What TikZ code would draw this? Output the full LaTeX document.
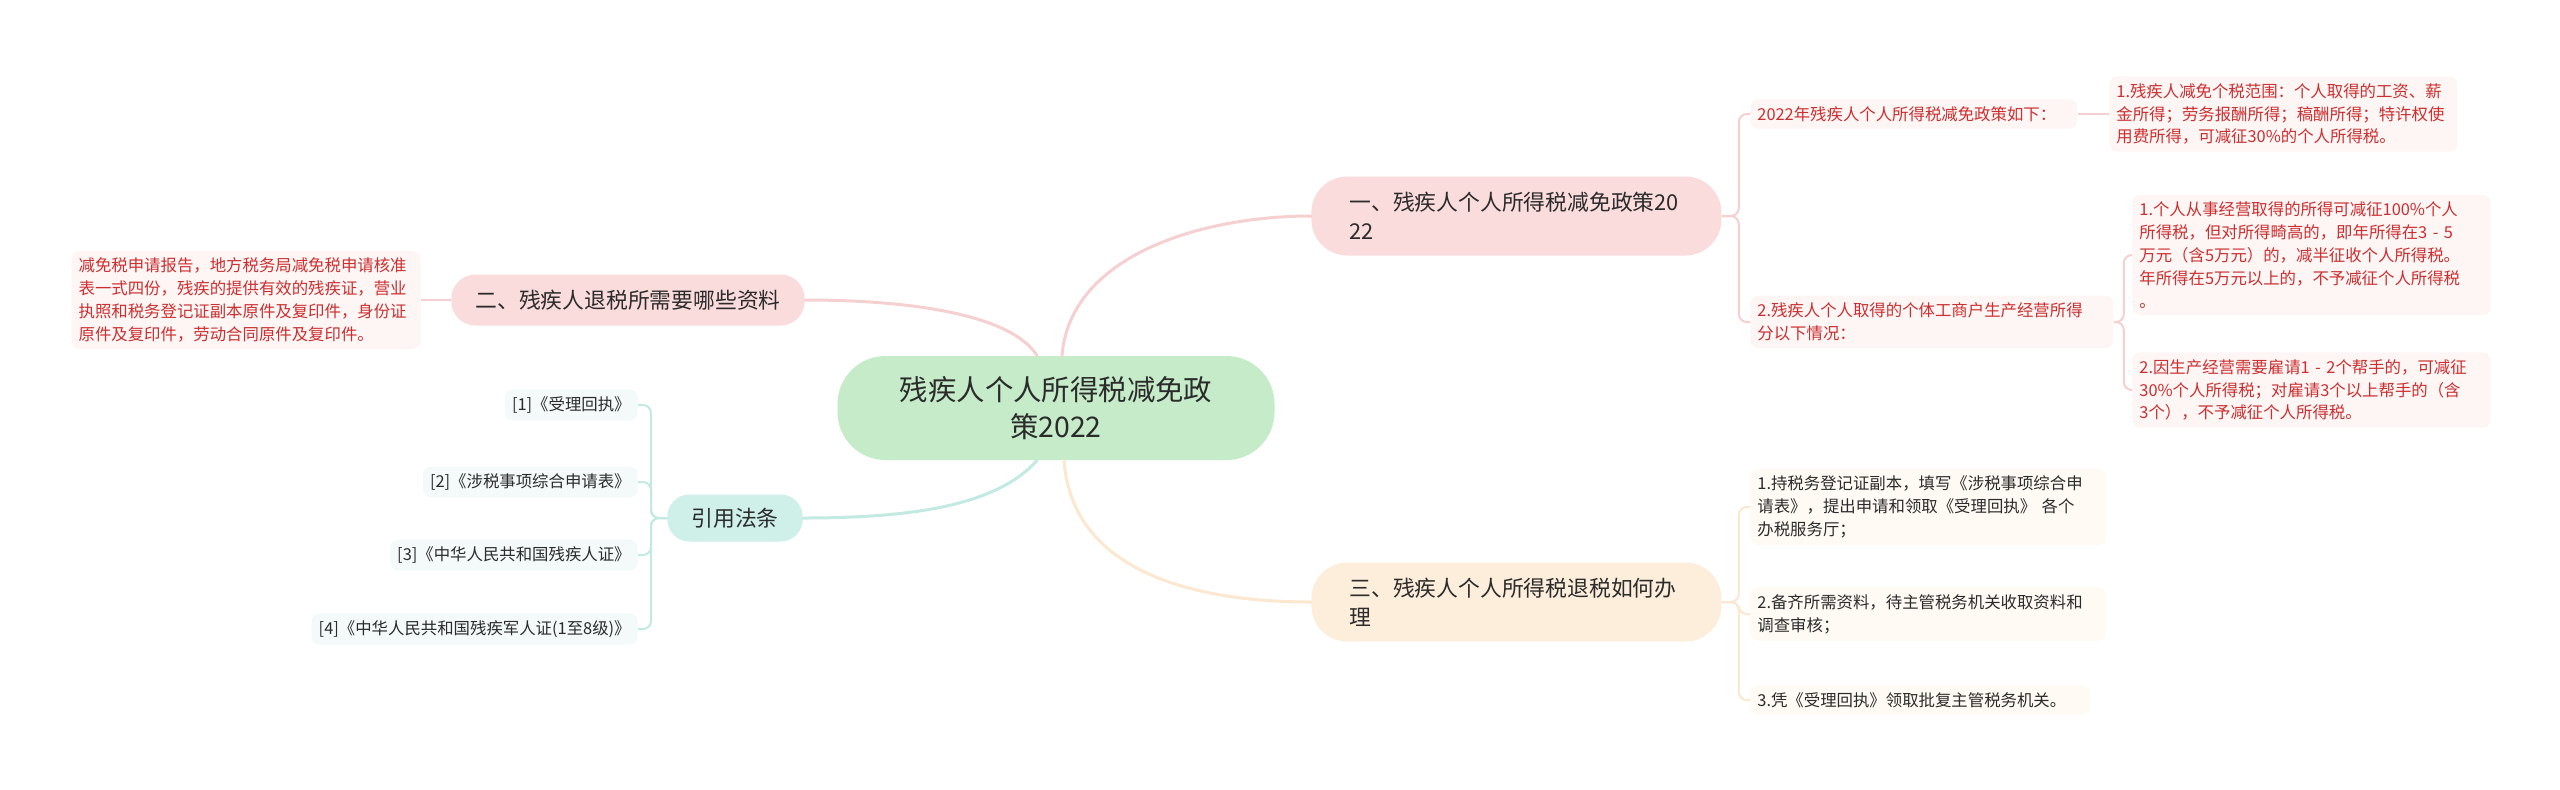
\documentclass[tikz,border=0pt]{standalone}
\usepackage{fontspec}
\setmainfont{Noto Sans CJK SC}
\usetikzlibrary{positioning}

\definecolor{rootfill}{HTML}{C5EBC8}
\definecolor{topicpink}{HTML}{FADCDC}
\definecolor{topicpeach}{HTML}{FDEEDC}
\definecolor{topicteal}{HTML}{CFEFE9}
\definecolor{leafpink}{HTML}{FEF5F5}
\definecolor{leafpeach}{HTML}{FFFAF4}
\definecolor{leafteal}{HTML}{F3FAF9}
\definecolor{linepink}{HTML}{F6D0D1}
\definecolor{linepeach}{HTML}{FCE7D0}
\definecolor{lineteal}{HTML}{C3EAE2}
\definecolor{redtext}{HTML}{CC2F2F}
\definecolor{darktext}{HTML}{2B2B2B}

\begin{document}
\begin{tikzpicture}[x=0.5pt,y=-0.5pt,
    topic/.style={text=darktext, align=left, inner ysep=0pt,
        font=\fontsize{10.9}{14.7}\selectfont},
    leaf/.style={rounded corners=4pt, align=left, inner xsep=3.5pt, inner ysep=3.5pt,
        font=\fontsize{8.2}{11.4}\selectfont},
    redleaf/.style={leaf, fill=leafpink, text=redtext},
    peachleaf/.style={leaf, fill=leafpeach, text=darktext},
    tealleaf/.style={leaf, fill=leafteal, text=darktext},
    branch/.style={line width=1.5pt, line cap=round},
    twig/.style={line width=1pt, rounded corners=4pt}]

\fill[white] (0,0) rectangle (2560,789);
\useasboundingbox (0,0) rectangle (2560,789);

% centre and main topics
\node (root) [fill=rootfill, rounded corners=24pt, align=center, text=darktext,
    font=\fontsize{14.2}{18.8}\selectfont, minimum width=218.5pt, minimum height=52pt]
    at (1056,408) {残疾人个人所得税减免政\\策2022};

\node (t1) [topic, fill=topicpink, rounded corners=18pt, anchor=west, text width=167pt,
    inner xsep=19pt, minimum height=39.5pt] at (1311,216) {一、残疾人个人所得税减免政策20\\22};
\node (t2) [topic, fill=topicpink, rounded corners=12pt, anchor=east,
    inner xsep=12pt, minimum height=25.5pt] at (805,300) {二、残疾人退税所需要哪些资料};
\node (t3) [topic, fill=topicpeach, rounded corners=18pt, anchor=west, text width=167pt,
    inner xsep=19pt, minimum height=39.5pt] at (1311,602) {三、残疾人个人所得税退税如何办\\理};
\node (t4) [topic, fill=topicteal, rounded corners=11pt, anchor=east,
    inner xsep=12pt, minimum height=23.5pt] at (803,518) {引用法条};

% leaves of t1
\node (a1) [redleaf, anchor=west, text width=156.5pt] at (1750,114)
    {2022年残疾人个人所得税减免政策如下：};
\node (a2) [redleaf, anchor=west, text width=167pt] at (2109,114)
    {1.残疾人减免个税范围：个人取得的工资、薪\\金所得；劳务报酬所得；稿酬所得；特许权使\\用费所得，可减征30\%的个人所得税。};
\node (b1) [redleaf, anchor=west, text width=174.5pt] at (1750,322)
    {2.残疾人个人取得的个体工商户生产经营所得\\分以下情况：};
\node (b2) [redleaf, anchor=west, text width=172pt] at (2132,255)
    {1.个人从事经营取得的所得可减征100\%个人\\所得税，但对所得畸高的，即年所得在3 - 5\\万元（含5万元）的，减半征收个人所得税。\\年所得在5万元以上的，不予减征个人所得税\\。};
\node (b3) [redleaf, anchor=west, text width=172pt] at (2132,390)
    {2.因生产经营需要雇请1 - 2个帮手的，可减征\\30\%个人所得税；对雇请3个以上帮手的（含\\3个），不予减征个人所得税。};

% leaves of t3
\node (c1) [peachleaf, anchor=west, text width=171pt] at (1750,507)
    {1.持税务登记证副本，填写《涉税事项综合申\\请表》，提出申请和领取《受理回执》 各个\\办税服务厅；};
\node (c2) [peachleaf, anchor=west, text width=171pt] at (1750,614)
    {2.备齐所需资料，待主管税务机关收取资料和\\调查审核；};
\node (c3) [peachleaf, anchor=west, text width=163pt] at (1750,700)
    {3.凭《受理回执》领取批复主管税务机关。};

% leaf of t2
\node (d1) [redleaf, anchor=east, text width=167.5pt] at (421,300)
    {减免税申请报告，地方税务局减免税申请核准\\表一式四份，残疾的提供有效的残疾证，营业\\执照和税务登记证副本原件及复印件，身份证\\原件及复印件，劳动合同原件及复印件。};

% leaves of t4
\node (e1) [tealleaf, anchor=east] at (638,405) {[1]《受理回执》};
\node (e2) [tealleaf, anchor=east] at (638,482) {[2]《涉税事项综合申请表》};
\node (e3) [tealleaf, anchor=east] at (638,555) {[3]《中华人民共和国残疾人证》};
\node (e4) [tealleaf, anchor=east] at (638,629) {[4]《中华人民共和国残疾军人证(1至8级)》};

% branches
\draw[branch, linepink] ([xshift=3pt]root.north) .. controls +(8,-100) and +(-110,0) .. (t1.west);
\draw[branch, linepink] ([xshift=-9.5pt]root.north) .. controls +(-25,-40) and +(110,0) .. (t2.east);
\draw[branch, lineteal] ([xshift=-9.5pt]root.south) .. controls +(-40,45) and +(110,0) .. (t4.east);
\draw[branch, linepeach] ([xshift=4pt]root.south) .. controls +(8,110) and +(-120,0) .. (t3.west);

% twigs
\foreach \c in {a1,b1}
    \draw[twig, linepink] (t1.east) -- ++(17,0) |- (\c.west);
\draw[twig, linepink] (a1.east) -- (a2.west);
\foreach \c in {b2,b3}
    \draw[twig, linepink] (b1.east) -- ++(10,0) |- (\c.west);
\foreach \c in {c1,c2,c3}
    \draw[twig, linepeach] (t3.east) -- ++(17,0) |- (\c.west);
\draw[twig, linepink] (t2.west) -- (d1.east);
\foreach \c in {e1,e2,e3,e4}
    \draw[twig, lineteal] (t4.west) -- ++(-16,0) |- (\c.east);

\end{tikzpicture}
\end{document}
